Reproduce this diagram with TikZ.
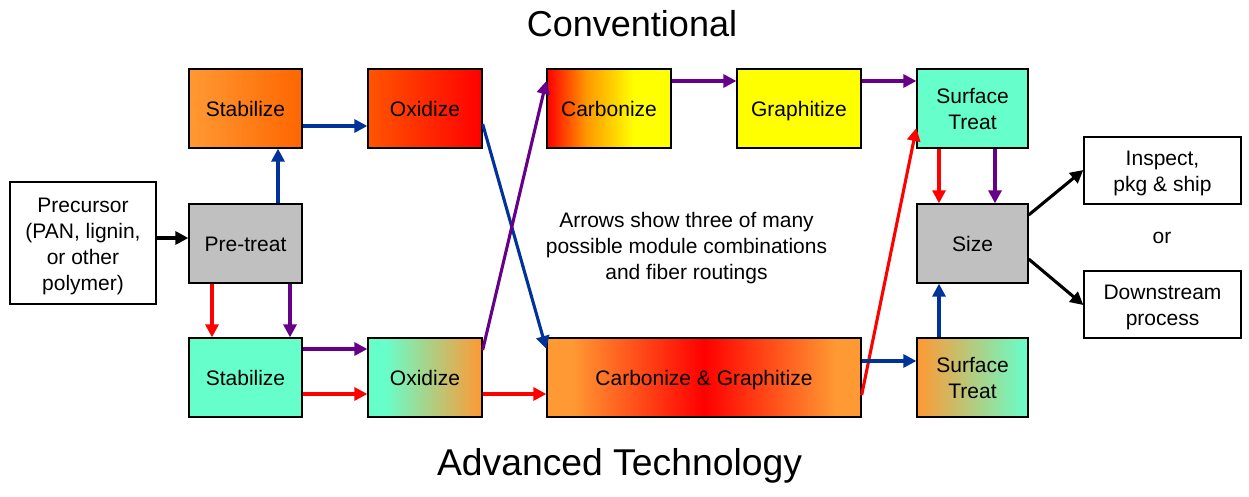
\documentclass[tikz,border=0pt]{standalone}
\usepackage{fontspec}
\setmainfont{Liberation Sans}
\usetikzlibrary{arrows.meta,shadings}
\definecolor{aqua}{HTML}{66FFCC}
\definecolor{orng}{HTML}{FF9933}
\definecolor{dorng}{HTML}{FF6600}
\definecolor{rorng}{HTML}{FF5500}
\definecolor{yel}{HTML}{FFFF00}
\definecolor{grayb}{HTML}{C0C0C0}
\definecolor{ablue}{HTML}{003399}
\definecolor{apurple}{HTML}{660088}
\definecolor{ared}{HTML}{FF0000}
\definecolor{carbor}{HTML}{FF9900}
\pgfdeclarehorizontalshading{carbshade}{100bp}{color(0bp)=(ared); color(25bp)=(ared); color(41bp)=(carbor); color(60bp)=(yel); color(100bp)=(yel)}
\pgfdeclarehorizontalshading{cgshade}{100bp}{color(0bp)=(orng); color(29bp)=(orng); color(50bp)=(ared); color(71bp)=(orng); color(100bp)=(orng)}
\pgfdeclarehorizontalshading{oxbshade}{100bp}{color(0bp)=(aqua); color(32bp)=(aqua); color(75bp)=(orng); color(100bp)=(orng)}
\tikzset{
  box/.style={draw=black, line width=1.3pt, inner sep=0pt, align=center,
    font=\fontsize{21}{26}\selectfont, text=black, text depth=0pt},
  one/.style={text height=16.5pt},
  two/.style={text height=42pt},
  std/.style={box, minimum width=113pt, minimum height=79pt},
  conn/.style={line width=3.1pt, -{Triangle[length=13pt,width=13pt]}},
  bconn/.style={conn, draw=ablue, color=ablue},
  pconn/.style={conn, draw=apurple, color=apurple},
  rconn/.style={conn, draw=ared, color=ared},
  kconn/.style={conn, draw=black},
  lbl/.style={font=\fontsize{21}{26}\selectfont, align=center, inner sep=0pt},
  ttl/.style={inner sep=0pt, anchor=base},
}
\begin{document}
\begin{tikzpicture}[x=1pt,y=-1pt]
\useasboundingbox (0,0) rectangle (1249,497);
% nodes
\node[ttl, font=\fontsize{36}{40}\selectfont] (title1) at (632,37) {Conventional};
\node[ttl, font=\fontsize{37.3}{42}\selectfont] (title2) at (619.5,475) {Advanced Technology};
\node[box, text height=94pt, minimum width=146pt, minimum height=122pt, fill=white] (prec) at (83,243) {Precursor\\(PAN, lignin,\\or other\\polymer)};
\node[std, one, fill=grayb] (pre) at (245.5,243.5) {Pre-treat};
\node[std, one, left color=orng, right color=dorng] (stabT) at (245.5,108.5) {Stabilize};
\node[std, one, minimum width=114pt, left color=rorng, right color=ared] (oxT) at (425,108.5) {Oxidize};
\node[std, one, minimum width=124pt, shading=carbshade] (carb) at (609,108.5) {Carbonize};
\node[std, one, minimum width=124pt, fill=yel] (graph) at (799,108.5) {Graphitize};
\node[std, two, minimum width=111pt, fill=aqua] (surfT) at (972.5,108.5) {Surface\\Treat};
\node[std, one, minimum width=111pt, fill=grayb] (size) at (972.5,243.5) {Size};
\node[std, one, fill=aqua] (stabB) at (245.5,377.5) {Stabilize};
\node[std, one, minimum width=114pt, shading=oxbshade] (oxB) at (425,377.5) {Oxidize};
\node[std, one, minimum width=314pt, shading=cgshade] (cg) at (704,377.5) {Carbonize \& Graphitize};
\node[std, two, minimum width=111pt, left color=orng, right color=aqua] (surfB) at (972.5,377.5) {Surface\\Treat};
\node[box, two, minimum width=157pt, minimum height=67pt, fill=white] (insp) at (1162.5,170.5) {Inspect,\\pkg \& ship};
\node[box, two, minimum width=157pt, minimum height=67pt, fill=white] (down) at (1162.5,304.5) {Downstream\\process};
\node[lbl, anchor=base] (or) at (1162,243) {or};
\node[lbl, text height=67pt, text depth=0pt] (note) at (686.5,245.5) {Arrows show three of many\\possible module combinations\\and fiber routings};
% connectors
\draw[kconn] (prec.east |- 0,238) -- (pre.west |- 0,238);
\draw[bconn] (pre.north -| 278,0) -- (stabT.south -| 278,0);
\draw[bconn] (stabT.east |- 0,126) -- (oxT.west |- 0,126);
\draw[bconn] (oxT.east |- 0,124) -- (cg.west |- 0,349);
\draw[pconn] (oxB.east |- 0,350) -- (carb.west |- 0,81);
\draw[pconn] (carb.east |- 0,81) -- (graph.west |- 0,81);
\draw[pconn] (graph.east |- 0,81) -- (surfT.west |- 0,81);
\draw[rconn] (cg.east |- 0,395) -- (surfT.west |- 0,128);
\draw[rconn] (surfT.south -| 939,0) -- (size.north -| 939,0);
\draw[pconn] (surfT.south -| 995,0) -- (size.north -| 995,0);
\draw[bconn] (surfB.north -| 939,0) -- (size.south -| 939,0);
\draw[bconn] (cg.east |- 0,361) -- (surfB.west |- 0,361);
\draw[kconn] (size.east |- 0,215) -- (insp.west |- 0,170);
\draw[kconn] (size.east |- 0,259) -- (down.west |- 0,305);
\draw[rconn] (pre.south -| 212,0) -- (stabB.north -| 212,0);
\draw[pconn] (pre.south -| 290,0) -- (stabB.north -| 290,0);
\draw[pconn] (stabB.east |- 0,349) -- (oxB.west |- 0,349);
\draw[rconn] (stabB.east |- 0,394) -- (oxB.west |- 0,394);
\draw[rconn] (oxB.east |- 0,394) -- (cg.west |- 0,394);
\end{tikzpicture}
\end{document}
